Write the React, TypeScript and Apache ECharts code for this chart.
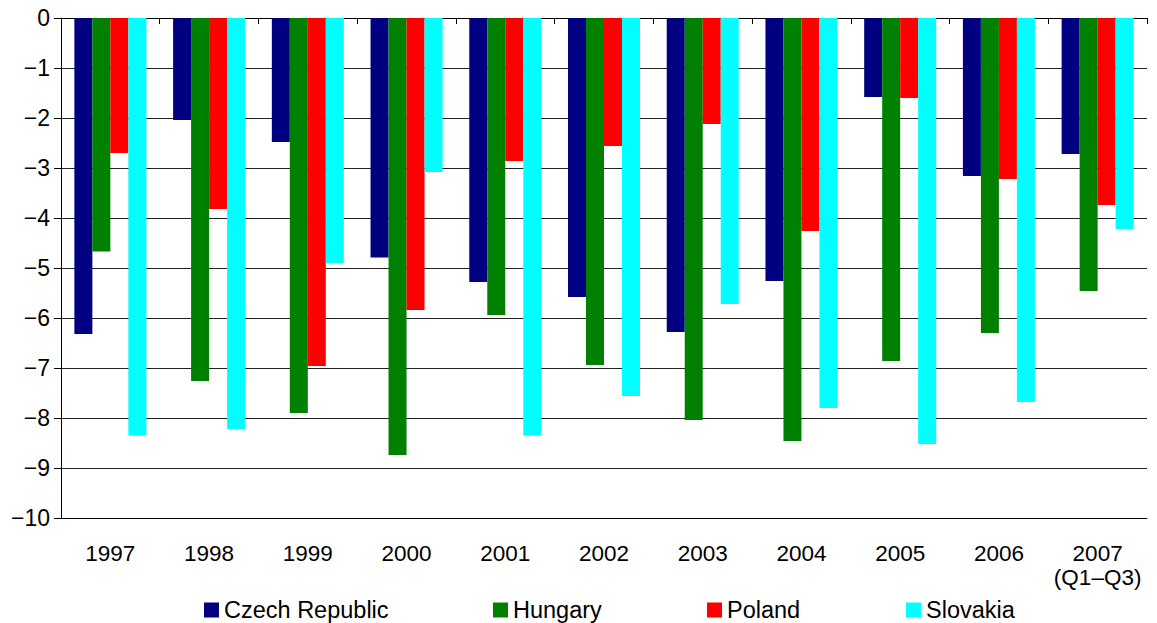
import React, { useEffect, useRef } from "react";
import * as echarts from "echarts";

const categories = ["1997", "1998", "1999", "2000", "2001", "2002", "2003", "2004", "2005", "2006", "2007\n(Q1–Q3)"];
const seriesNames = ["Czech Republic", "Hungary", "Poland", "Slovakia"];
const czech = [-6.32, -2.04, -2.48, -4.79, -5.28, -5.58, -6.28, -5.26, -1.58, -3.16, -2.72];
const hungary = [-4.67, -7.26, -7.9, -8.74, -5.94, -6.94, -8.04, -8.46, -6.86, -6.3, -5.46];
const poland = [-2.7, -3.82, -6.96, -5.84, -2.86, -2.56, -2.12, -4.26, -1.6, -3.22, -3.74];
const slovakia = [-8.35, -8.22, -4.9, -3.08, -8.35, -7.56, -5.72, -7.8, -8.52, -7.68, -4.22];
const colors = ["#000080", "#008000", "#ff0000", "#00ffff"];
const legendLeft = [204, 493, 707, 906];

export default function App() {
  const ref = useRef<HTMLDivElement>(null);
  useEffect(() => {
    if (!ref.current) return;
    const chart = echarts.init(ref.current, undefined, { renderer: "svg" });
    const font = "'Liberation Sans', Arial, sans-serif";
    const values = [czech, hungary, poland, slovakia];
    chart.setOption({
      animation: false,
      textStyle: { fontFamily: font },
      grid: { left: 61, right: 10, top: 18, bottom: 105 },
      legend: seriesNames.map((n, i) => ({
        data: [n],
        left: legendLeft[i],
        top: 598,
        padding: 0,
        itemWidth: 15,
        itemHeight: 15,
        icon: "rect",
        textStyle: { fontSize: 23.5, lineHeight: 24, color: "#000", fontFamily: font },
      })),
      xAxis: [
        {
          type: "category",
          data: categories,
          position: "bottom",
          axisLine: { show: true, onZero: false, lineStyle: { color: "#000", width: 1 } },
          axisTick: { show: false },
          axisLabel: { interval: 0, fontSize: 22.5, color: "#000", margin: 23, lineHeight: 24, fontFamily: font },
        },
        {
          type: "category",
          data: categories,
          position: "top",
          axisLine: { show: true, onZero: false, lineStyle: { color: "#000", width: 1 } },
          axisTick: { show: true, inside: true, length: 6, lineStyle: { color: "#000" } },
          axisLabel: { show: false },
        },
      ],
      yAxis: {
        type: "value",
        min: -10,
        max: 0,
        interval: 1,
        axisLine: { show: true, lineStyle: { color: "#000", width: 1 } },
        axisTick: { show: true, length: 7, lineStyle: { color: "#000" } },
        axisLabel: {
          fontSize: 23,
          color: "#000",
          margin: 11,
          fontFamily: font,
          formatter: (v: number) => String(v).replace("-", "−"),
        },
        splitLine: { show: true, lineStyle: { color: "#222", width: 1 } },
      },
      series: seriesNames.map((n, i) => ({
        name: n,
        type: "bar",
        data: values[i],
        barWidth: 18,
        barGap: "0%",
        itemStyle: { color: colors[i] },
      })),
    });
    return () => chart.dispose();
  }, []);
  return <div ref={ref} style={{ width: 1157, height: 623, position: "absolute", left: 0, top: 0 }} />;
}
